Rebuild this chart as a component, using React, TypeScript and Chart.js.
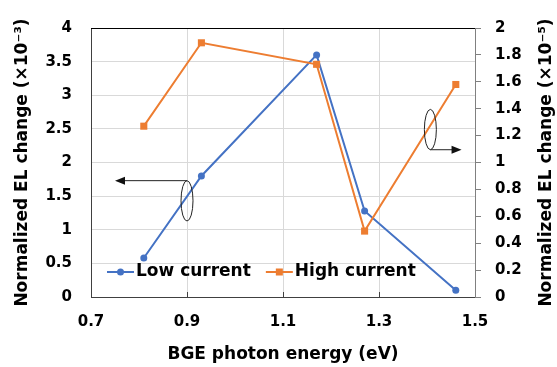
import { useEffect, useRef } from "react";
import { Chart, registerables } from "chart.js";

Chart.register(...registerables);

// BGE photon energy (eV) of each measurement
const photonEnergy = [0.81, 0.93, 1.17, 1.27, 1.46];
// Normalized EL change, low current (×10⁻³, left axis)
const lowCurrent = [0.58, 1.8, 3.6, 1.28, 0.1];
// Normalized EL change, high current (×10⁻⁵, right axis)
const highCurrent = [1.27, 1.89, 1.73, 0.49, 1.58];

const seriesNames = ["Low current", "High current"];
const leftTitle = "Normalized EL change (×10⁻³)";
const rightTitle = "Normalized EL change (×10⁻⁵)";
const xTitle = "BGE photon energy (eV)";
const blue = "#4472C4";
const orange = "#ED7D31";

// Ellipse call-outs with an arrow pointing to the axis a series is read on
const callouts = [
  { axis: "y", cx: 0.9, cy: 1.43, rx: 0.0125, ry: 0.3, from: "top", toX: 0.75 },
  { axis: "y1", cx: 1.407, cy: 1.245, rx: 0.0125, ry: 0.15, from: "bottom", toX: 1.472 },
];

const FONT = "'DejaVu Sans', Verdana, sans-serif";

const plain = (v: any) => String(Math.round(Number(v) * 100) / 100);

const framePlugin = {
  id: "frame",
  afterDraw(chart: any) {
    const { ctx, chartArea } = chart;
    const { left, right, top, bottom } = chartArea;
    const xs = chart.scales.x;
    ctx.save();
    // black top edge of the plot frame
    ctx.strokeStyle = "#000";
    ctx.lineWidth = 1.2;
    ctx.beginPath();
    ctx.moveTo(left, top + 0.5);
    ctx.lineTo(right, top + 0.5);
    ctx.stroke();
    // short inward tick marks on the x axis
    ctx.strokeStyle = "#404040";
    ctx.lineWidth = 1;
    xs.ticks.forEach((t: any) => {
      const px = Math.round(xs.getPixelForValue(t.value)) + 0.5;
      if (px <= left + 1 || px >= right - 1) return;
      ctx.beginPath();
      ctx.moveTo(px, bottom);
      ctx.lineTo(px, bottom - 5);
      ctx.stroke();
    });

    // call-outs
    callouts.forEach((c) => {
      const ys = chart.scales[c.axis];
      const cx = xs.getPixelForValue(c.cx);
      const cy = ys.getPixelForValue(c.cy);
      const rx = Math.abs(xs.getPixelForValue(c.cx + c.rx) - cx);
      const ry = Math.abs(ys.getPixelForValue(c.cy + c.ry) - cy);
      ctx.strokeStyle = "#222";
      ctx.lineWidth = 1;
      ctx.beginPath();
      ctx.ellipse(cx, cy, rx, ry, 0, 0, Math.PI * 2);
      ctx.stroke();
      const ay = c.from === "top" ? cy - ry : cy + ry;
      const tx = xs.getPixelForValue(c.toX);
      const dir = tx < cx ? -1 : 1;
      ctx.beginPath();
      ctx.moveTo(cx, ay);
      ctx.lineTo(tx - dir * 8, ay);
      ctx.stroke();
      ctx.fillStyle = "#111";
      ctx.beginPath();
      ctx.moveTo(tx, ay);
      ctx.lineTo(tx - dir * 10, ay - 4);
      ctx.lineTo(tx - dir * 10, ay + 4);
      ctx.closePath();
      ctx.fill();
    });

    // right-hand axis title, reading bottom to top
    ctx.fillStyle = "#000";
    ctx.font = `bold 17px ${FONT}`;
    ctx.textAlign = "center";
    ctx.textBaseline = "middle";
    ctx.save();
    ctx.translate(chart.width - 10, (top + bottom) / 2);
    ctx.rotate(-Math.PI / 2);
    ctx.fillText(rightTitle, 0, 0);
    ctx.restore();

    // legend inside the plot area
    const ly = bottom - 25;
    let lx = left + 16;
    ctx.font = `bold 17px ${FONT}`;
    ctx.textBaseline = "middle";
    ctx.textAlign = "left";
    chart.data.datasets.forEach((ds: any, i: number) => {
      const col = ds.borderColor;
      ctx.strokeStyle = col;
      ctx.lineWidth = 2;
      ctx.beginPath();
      ctx.moveTo(lx, ly);
      ctx.lineTo(lx + 27, ly);
      ctx.stroke();
      ctx.fillStyle = col;
      if (ds.pointStyle === "rect") {
        ctx.fillRect(lx + 13.5 - 3.5, ly - 3.5, 7, 7);
      } else {
        ctx.beginPath();
        ctx.arc(lx + 13.5, ly, 3.5, 0, Math.PI * 2);
        ctx.fill();
      }
      ctx.fillStyle = "#000";
      ctx.fillText(seriesNames[i], lx + 29, ly);
      lx += 29 + ctx.measureText(seriesNames[i]).width + 15;
    });
    ctx.restore();
  },
};

export default function App() {
  const ref = useRef<HTMLCanvasElement | null>(null);

  useEffect(() => {
    if (!ref.current) return;
    Chart.defaults.font.family = FONT;
    Chart.defaults.color = "#000";
    const chart = new Chart(ref.current, {
      type: "line",
      data: {
        datasets: [
          {
            label: seriesNames[0],
            data: photonEnergy.map((x, i) => ({ x, y: lowCurrent[i] })),
            yAxisID: "y",
            borderColor: blue,
            backgroundColor: blue,
            borderWidth: 2,
            pointStyle: "circle",
            pointRadius: 3.5,
            pointBorderWidth: 0,
            order: 1,
          },
          {
            label: seriesNames[1],
            data: photonEnergy.map((x, i) => ({ x, y: highCurrent[i] })),
            yAxisID: "y1",
            borderColor: orange,
            backgroundColor: orange,
            borderWidth: 2,
            pointStyle: "rect",
            pointRadius: 5,
            pointBorderWidth: 0,
            order: 0,
          },
        ],
      },
      options: {
        responsive: false,
        animation: false,
        devicePixelRatio: 1,
        layout: { padding: { top: 18, left: 0, right: 0, bottom: 0 } },
        plugins: { legend: { display: false }, tooltip: { enabled: false } },
        scales: {
          x: {
            type: "linear",
            min: 0.7,
            max: 1.5,
            afterFit: (s: any) => {
              s.height = 70;
            },
            ticks: { stepSize: 0.2, padding: 16, font: { size: 15, weight: "bold" }, callback: plain },
            grid: { color: "#d9d9d9", drawTicks: false },
            border: { color: "#404040", width: 1 },
            title: {
              display: true,
              text: xTitle,
              font: { size: 17, weight: "bold" },
              padding: { top: 0, bottom: 2 },
            },
          },
          y: {
            type: "linear",
            position: "left",
            min: 0,
            max: 4,
            afterFit: (s: any) => {
              s.width = 91;
            },
            ticks: { stepSize: 0.5, padding: 19, font: { size: 15, weight: "bold" }, callback: plain },
            grid: { color: "#d9d9d9", drawTicks: false },
            border: { color: "#404040", width: 1 },
            title: {
              display: true,
              text: leftTitle,
              font: { size: 17, weight: "bold" },
              padding: { top: 12, bottom: 0 },
            },
          },
          y1: {
            type: "linear",
            position: "right",
            min: 0,
            max: 2,
            afterFit: (s: any) => {
              s.width = 82;
            },
            ticks: { stepSize: 0.2, padding: 14, font: { size: 15, weight: "bold" }, callback: plain },
            grid: { drawOnChartArea: false, drawTicks: true, tickLength: 6, color: "#808080" },
            border: { color: "#808080", width: 1 },
            title: { display: false },
          },
        },
      },
      plugins: [framePlugin],
    });
    return () => chart.destroy();
  }, []);

  return (
    <div style={{ position: "fixed", left: 0, top: 0, width: 557, height: 367, background: "#fff" }}>
      <canvas ref={ref} width={557} height={367} />
    </div>
  );
}
